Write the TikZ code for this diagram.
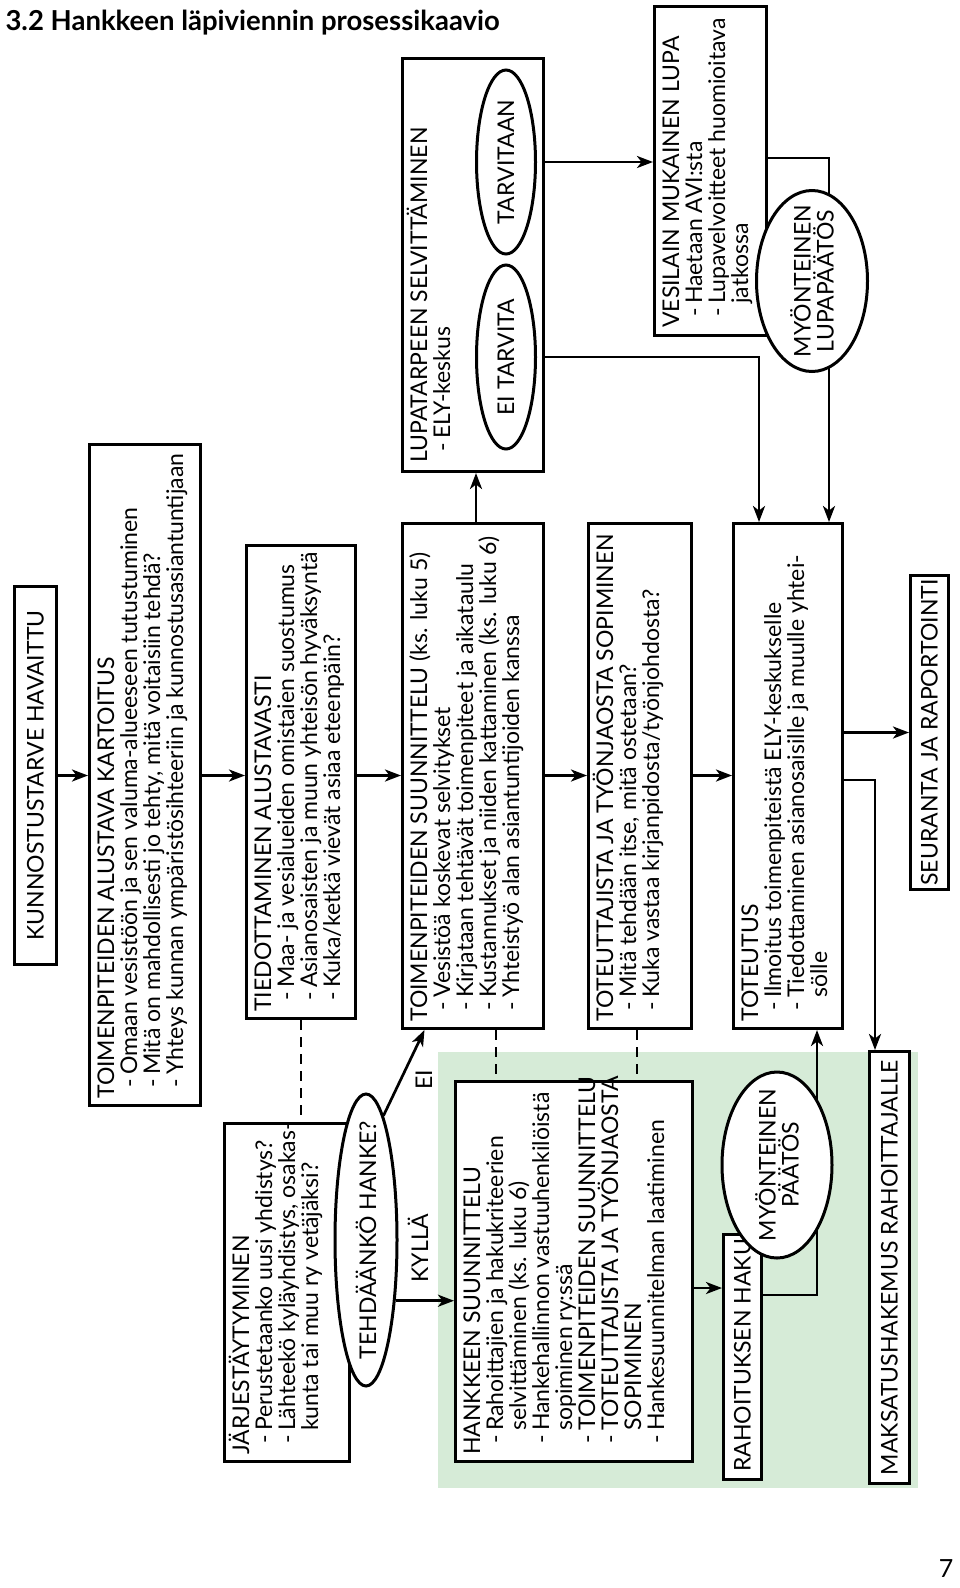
\documentclass[tikz,border=0pt]{standalone}
\usepackage{fontspec}
\setmainfont{Lato}
\usetikzlibrary{shapes.geometric,arrows.meta,calc}
\pgfdeclarelayer{bg}
\pgfdeclarelayer{edges}
\pgfsetlayers{bg,edges,main}
\definecolor{pale}{RGB}{214,235,215}
\newcommand\itm{\makebox[24pt][l]{\hspace*{11pt}-}}
\newcommand\cnt{\hspace*{24pt}}
\newcommand\fr{\rule{0pt}{21pt}}
\begin{document}
\begin{tikzpicture}[x=1pt,y=-1pt,
  font=\fontsize{23}{23}\selectfont,
  box/.style={draw,line width=3pt,fill=white,inner sep=0pt,anchor=north west},
  txt/.style={rotate=90,anchor=north west,inner sep=0pt,align=left},
  ctxt/.style={rotate=90,inner sep=0pt,align=center},
  ell/.style={ellipse,draw,line width=3pt,fill=white,inner sep=0pt},
  arr/.style={line width=2.7pt,-{Stealth[length=16pt,width=12pt,inset=4.5pt]}},
  dsh/.style={line width=2.7pt,dash pattern=on 10pt off 7pt},
  lbl/.style={rotate=90,inner sep=0pt}]
\useasboundingbox (0,0) rectangle (960,1588);
\begin{pgfonlayer}{bg}
\fill[pale] (438,1052) rectangle (918,1488);
\end{pgfonlayer}

\node[anchor=base west,font=\fontsize{27.5}{30}\selectfont\bfseries] (title) at (2,30) {3.2 Hankkeen läpiviennin prosessikaavio};

% boxes
\node[box,minimum width=42pt,minimum height=378pt] (kunn) at (13,585) {};
\node[ctxt] (kunn-t) at (kunn.center) {KUNNOSTUSTARVE HAVAITTU};

\node[box,minimum width=111pt,minimum height=661pt] (kart) at (88,443) {};
\node[txt] (kart-t) at ([xshift=5pt,yshift=8pt]kart.south west) {\fr TOIMENPITEIDEN ALUSTAVA KARTOITUS\\
\itm Omaan vesistöön ja sen valuma-alueeseen tutustuminen\\
\itm Mitä on mahdollisesti jo tehty, mitä voitaisiin tehdä?\\
\itm Yhteys kunnan ympäristösihteeriin ja kunnostusasiantuntijaan};

\node[box,minimum width=109pt,minimum height=473pt] (tied) at (245,544) {};
\node[txt] (tied-t) at ([xshift=5pt,yshift=8pt]tied.south west) {\fr TIEDOTTAMINEN ALUSTAVASTI\\
\itm Maa- ja vesialueiden omistaien suostumus\\
\itm Asianosaisten ja muun yhteisön hyväksyntä\\
\itm Kuka/ketkä vievät asiaa eteenpäin?};

\node[box,minimum width=125pt,minimum height=338pt] (jarj) at (223,1122) {};
\node[txt] (jarj-t) at ([xshift=5pt,yshift=8pt]jarj.south west) {\fr JÄRJESTÄYTYMINEN\\
\itm Perustetaanko uusi yhdistys?\\
\itm Lähteekö kyläyhdistys, osakas-\\
\cnt kunta tai muu ry vetäjäksi?};

\node[box,minimum width=141pt,minimum height=413pt] (lupa) at (401,57) {};
\node[txt] (lupa-t) at ([xshift=5pt,yshift=10pt]lupa.south west) {\fr LUPATARPEEN SELVITTÄMINEN\\
\itm ELY-keskus};

\node[box,minimum width=141pt,minimum height=505pt] (suun) at (401,522) {};
\node[txt] (suun-t) at ([xshift=5pt,yshift=8pt]suun.south west) {\fr TOIMENPITEIDEN SUUNNITTELU (ks. luku 5)\\
\itm Vesistöä koskevat selvitykset\\
\itm Kirjataan tehtävät toimenpiteet ja aikataulu\\
\itm Kustannukset ja niiden kattaminen (ks. luku 6)\\
\itm Yhteistyö alan asiantuntijoiden kanssa};

\node[box,minimum width=103pt,minimum height=505pt] (tote) at (587,522) {};
\node[txt] (tote-t) at ([xshift=5pt,yshift=8pt]tote.south west) {\fr TOTEUTTAJISTA JA TYÖNJAOSTA SOPIMINEN\\
\itm Mitä tehdään itse, mitä ostetaan?\\
\itm Kuka vastaa kirjanpidosta/työnjohdosta?};

\node[box,minimum width=112pt,minimum height=329pt] (vesi) at (653,5) {};
\node[txt] (vesi-t) at ([xshift=5pt,yshift=9pt]vesi.south west) {\fr VESILAIN MUKAINEN LUPA\\
\itm Haetaan AVI:sta\\
\itm Lupavelvoitteet huomioitava\\
\cnt jatkossa};

\node[box,minimum width=109pt,minimum height=505pt] (toteutus) at (732,522) {};
\node[txt] (toteutus-t) at ([xshift=5pt,yshift=8pt]toteutus.south west) {\fr TOTEUTUS\\
\itm Ilmoitus toimenpiteistä ELY-keskukselle\\
\itm Tiedottaminen asianosaisille ja muulle yhtei-\\
\cnt sölle};

\node[box,minimum width=38pt,minimum height=314pt] (seur) at (909,574) {};
\node[ctxt] (seur-t) at (seur.center) {SEURANTA JA RAPORTOINTI};

\node[box,minimum width=237pt,minimum height=380pt] (hank) at (454,1080) {};
\node[txt] (hank-t) at ([xshift=5pt,yshift=8pt]hank.south west) {\fr HANKKEEN SUUNNITTELU\\
\itm Rahoittajien ja hakukriteerien\\
\cnt selvittäminen (ks. luku 6)\\
\itm Hankehallinnon vastuuhenkilöistä\\
\cnt sopiminen ry:ssä\\
\itm TOIMENPITEIDEN SUUNNITTELU\\
\itm TOTEUTTAJISTA JA TYÖNJAOSTA\\
\cnt SOPIMINEN\\
\itm Hankesuunnitelman laatiminen};

\node[box,minimum width=38pt,minimum height=245pt] (rah) at (722,1233) {};
\node[rotate=90,anchor=west,inner sep=0pt] (rah-t) at ([yshift=9pt]rah.south) {RAHOITUKSEN HAKU};

\node[box,minimum width=40pt,minimum height=432pt] (maks) at (868,1050) {};
\node[ctxt] (maks-t) at (maks.center) {MAKSATUSHAKEMUS RAHOITTAJALLE};

% ellipses
\node[ell,minimum width=62pt,minimum height=292pt] (tehd) at (366,1240) {};
\node[ctxt] (tehd-t) at (tehd.center) {TEHDÄÄNKÖ HANKE?};
\node[ell,minimum width=59pt,minimum height=184pt] (tarv) at (506,162) {};
\node[ctxt] (tarv-t) at (tarv.center) {TARVITAAN};
\node[ell,minimum width=59pt,minimum height=184pt] (eitarv) at (506,357) {};
\node[ctxt] (eitarv-t) at (eitarv.center) {EI TARVITA};
\node[ell,minimum width=111pt,minimum height=181pt] (lupap) at (812,281) {};
\node[ctxt] (lupap-t) at (lupap.center) {MYÖNTEINEN\\LUPAPÄÄTÖS};
\node[ell,minimum width=110pt,minimum height=186pt] (myon) at (777,1165) {};
\node[ctxt] (myon-t) at (myon.center) {MYÖNTEINEN\\PÄÄTÖS};

% labels
\node[lbl] (ei) at (424,1080) {EI};
\node[lbl] (kylla) at (418,1248) {KYLLÄ};

\node[anchor=base east,font=\fontsize{25}{25}\selectfont] (pg) at (957,1577) {7};

% bend coordinates
\coordinate (mk) at (875,780);
\coordinate (sl) at (476,500);
\coordinate (et) at (759,400);
\coordinate (vt) at (829,158);
\coordinate (hr) at (700,1288);
\coordinate (rt) at (817,1295);
\coordinate (d1) at (301,1050);
\coordinate (d2) at (496,1050);
\coordinate (d3) at (637,1050);

\begin{pgfonlayer}{edges}
\draw[arr] (kunn.east) -- (kunn.east -| kart.west);
\draw[arr] (kart.east |- kunn.east) -- (kunn.east -| tied.west);
\draw[arr] (tied.east |- kunn.east) -- (kunn.east -| suun.west);
\draw[arr] (suun.east |- kunn.east) -- (kunn.east -| tote.west);
\draw[arr] (tote.east |- kunn.east) -- (kunn.east -| toteutus.west);
\draw[arr] (toteutus.east |- seur.west) -- (seur.west);
\draw[arr] (toteutus.east |- mk) -| (mk |- maks.north);
\draw[arr] (sl |- suun.north) -- (sl |- lupa.south);
\draw[arr] (tarv.east) -- (tarv.east -| vesi.west);
\draw[arr] (eitarv.east) -| (et |- toteutus.north);
\draw[arr] (vesi.east |- vt) -| (vt |- toteutus.north);
\draw[arr] (hank.east |- hr) -- (rah.west |- hr);
\draw[arr] (rah.east |- rt) -| (rt |- toteutus.south);
\draw[arr] (tehd.-64.6) -- (tehd.-64.6 -| hank.west);
\draw[arr] (tehd.82.4) -- ($(suun.south west)!0.163!(suun.south east)$);
\draw[dsh] (d1 |- tied.south) -- (d1 |- jarj.north);
\draw[dsh] (d2 |- suun.south) -- (d2 |- hank.north);
\draw[dsh] (d3 |- tote.south) -- (d3 |- hank.north);
\end{pgfonlayer}
\end{tikzpicture}
\end{document}
